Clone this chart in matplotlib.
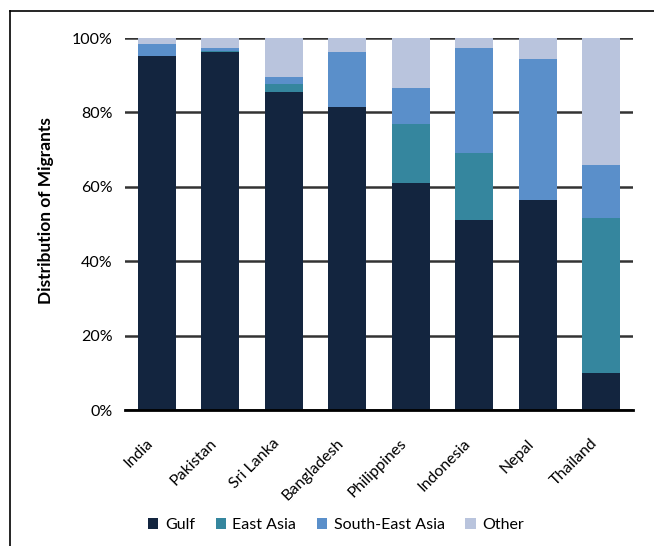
import matplotlib.pyplot as plt
import matplotlib.lines as mlines
import matplotlib.transforms as mtransforms
import numpy as np

plt.rcParams['font.family'] = ['Lato', 'DejaVu Sans']

countries = ['India', 'Pakistan', 'Sri Lanka', 'Bangladesh', 'Philippines', 'Indonesia', 'Nepal', 'Thailand']
gulf = [95.2, 96.2, 85.5, 81.5, 61.1, 51.1, 56.5, 9.9]
east_asia = [0.0, 0.2, 2.1, 0.0, 15.8, 18.0, 0.0, 41.7]
se_asia = [3.2, 0.9, 1.9, 14.7, 9.7, 28.2, 37.9, 14.3]
other = [1.6, 2.7, 10.5, 3.8, 13.4, 2.7, 5.6, 34.1]

series = [('Gulf', gulf, '#13253F'),
          ('East Asia', east_asia, '#35869E'),
          ('South-East Asia', se_asia, '#5A8FCA'),
          ('Other', other, '#B9C4DD')]

fig = plt.figure(figsize=(6.54, 5.46), dpi=100)
ax = fig.add_axes([125 / 654, 1 - 410 / 546, 508 / 654, 372 / 546])

x = np.arange(len(countries))
bottom = np.zeros(len(countries))
for name, vals, col in series:
    ax.bar(x, vals, bottom=bottom, width=0.6, color=col, label=name, zorder=3)
    bottom += np.array(vals)

ax.set_xlim(-0.5, len(countries) - 0.5)
ax.set_ylim(0, 100)
ax.set_yticks([0, 20, 40, 60, 80, 100])
ax.set_yticklabels(['0%', '20%', '40%', '60%', '80%', '100%'], fontsize=11.5)
ax.yaxis.grid(True, color='#333333', linewidth=1.8, zorder=0)
ax.tick_params(axis='y', length=0, pad=9)
ax.tick_params(axis='x', length=0, pad=19)
ax.set_xticks(x)
ax.set_xticklabels(countries, rotation=45, ha='right', va='top', rotation_mode='anchor', fontsize=11.5)
shift = mtransforms.ScaledTranslation(-0.11, 0, fig.dpi_scale_trans)
for lbl in ax.get_xticklabels():
    lbl.set_transform(lbl.get_transform() + shift)
for s in ['left', 'right', 'top']:
    ax.spines[s].set_visible(False)
ax.spines['bottom'].set_linewidth(2)
ax.spines['bottom'].set_zorder(4)
ax.set_ylabel('Distribution of Migrants', fontsize=12.5, fontweight='bold')
ax.yaxis.set_label_coords(-0.14, 0.535)

fig.legend(loc='center', bbox_to_anchor=(336 / 654, 1 - 525 / 546), ncol=4, frameon=False,
           fontsize=11.5, handlelength=0.65, handleheight=0.65, handletextpad=0.4, columnspacing=1.3)

# frame around the chart area
fig.add_artist(mlines.Line2D([10 / 654, 10 / 654], [0, 1 - 11 / 546], color='black', linewidth=1.2))
fig.add_artist(mlines.Line2D([10 / 654, 1], [1 - 11 / 546, 1 - 11 / 546], color='black', linewidth=1.2))

fig.savefig('out.png', dpi=100)
